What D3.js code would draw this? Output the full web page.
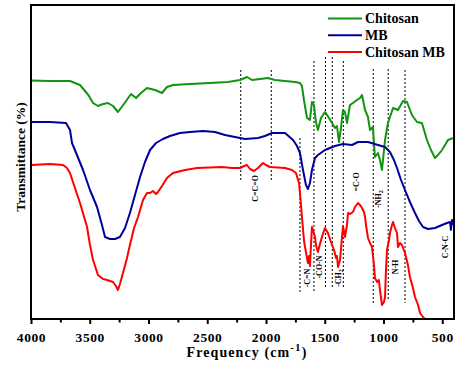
<!DOCTYPE html>
<html><head><meta charset="utf-8">
<script src="https://cdn.jsdelivr.net/npm/d3@7/dist/d3.min.js"></script>
<style>body{margin:0;background:#fff}svg{display:block}</style>
</head><body><svg id="c" width="467" height="365"></svg>
<script>
// [frequency cm-1, transmittance (a.u., offset)]
const chitosan = [[4000,119.2],[3838,119],[3668,119],[3583,117],[3512,112],[3472,108],[3430,106.5],[3387,107.5],[3345,108],[3302,106.5],[3260,103.5],[3209,107.5],[3149,112.5],[3106,110.5],[3064,113],[3013,115.5],[2945,114.5],[2885,113],[2843,116],[2792,117],[2647,117.5],[2477,118],[2324,118.5],[2221,119.5],[2162,121],[2119,119.5],[2051,120],[1983,120.5],[1924,119.5],[1838,119],[1753,118.5],[1711,118],[1694,116.5],[1677,109.5],[1651,100.5],[1626,99.5],[1609,108.5],[1592,107],[1575,98.5],[1558,94.5],[1532,100.5],[1498,103.5],[1464,100.5],[1438,98],[1413,95.5],[1396,96.5],[1379,88.5],[1362,95.5],[1345,104.5],[1328,103.5],[1311,98],[1285,107],[1260,108],[1226,109.5],[1200,110.5],[1183,112],[1157,104.5],[1132,101],[1115,94.5],[1090,96],[1073,81],[1047,83],[1030,79.5],[1013,74.5],[987,89.5],[962,98],[919,105.5],[877,104.5],[834,109],[800,108.5],[758,102],[715,98.5],[673,98],[630,89.5],[596,84.5],[562,80.5],[536,82],[502,84.5],[451,89.5],[409,90.5]];
const mb = [[4000,98.5],[3838,98.5],[3702,98],[3668,94.5],[3651,88],[3609,82],[3557,74.5],[3498,64.5],[3438,56],[3396,47],[3370,41],[3328,40],[3285,40],[3243,41],[3200,45.5],[3158,53],[3115,62],[3072,71],[3030,78.5],[2987,84.5],[2936,88],[2877,90],[2817,91.5],[2732,93],[2647,93.5],[2536,94],[2434,93.5],[2349,92],[2264,91],[2179,90],[2068,90.5],[2009,91.5],[1949,93],[1838,93],[1770,89.5],[1736,86.5],[1711,83],[1685,74.5],[1660,67],[1643,65],[1626,68],[1609,74.5],[1583,80.5],[1558,82],[1498,84.5],[1413,86.5],[1345,87.5],[1268,87],[1217,88.5],[1132,88.5],[1047,87],[987,86],[945,83.5],[911,79.5],[885,75.5],[851,69.5],[817,64.5],[775,58.5],[732,53],[698,49],[664,46],[621,45],[562,45.5],[502,47],[460,48],[434,48.5],[426,44.5],[417,49.5],[409,47]];
const chitosanMB = [[4000,77],[3838,77.5],[3727,77],[3694,75.5],[3668,73],[3626,65.5],[3583,58],[3523,46],[3498,37],[3472,29.5],[3430,22],[3387,20],[3353,19.5],[3302,18.5],[3277,16.5],[3260,14.5],[3243,17.5],[3217,23],[3183,30.5],[3158,37],[3123,45.5],[3089,51],[3047,59.5],[3013,63],[2987,63],[2962,64],[2936,62.5],[2919,63.5],[2885,66.5],[2843,70.5],[2792,73],[2689,74.5],[2587,75.5],[2477,75.8],[2375,76],[2290,75.5],[2221,75.5],[2187,76.5],[2162,77],[2136,75],[2102,74],[2068,75.5],[2026,78],[2000,77],[1966,76],[1838,75.5],[1779,74.5],[1745,73],[1719,68],[1702,57],[1694,51],[1677,39.5],[1668,36],[1651,30.5],[1643,28],[1634,31.5],[1626,26.5],[1617,37],[1609,46],[1600,44.5],[1583,41],[1575,37],[1558,33.5],[1541,37.5],[1524,41],[1498,45.5],[1473,43],[1447,38.5],[1421,34.5],[1404,30.5],[1396,31.5],[1387,26],[1370,29.5],[1353,41],[1345,46.5],[1328,41],[1311,47],[1302,53],[1285,52.5],[1260,53.5],[1243,56],[1217,58],[1200,57],[1183,55.5],[1166,53.5],[1157,51],[1149,47],[1132,40.5],[1115,38],[1098,36],[1081,27],[1073,20.5],[1055,18.5],[1039,19.5],[1030,14.5],[1013,7],[996,8.5],[987,11],[979,24.5],[970,34.5],[953,39.5],[945,43],[928,47],[919,48.5],[902,45.5],[885,43],[877,36],[860,38],[843,37],[817,33],[792,27],[775,21],[749,15.5],[732,11],[706,7],[689,3],[664,1],[647,0]];

const seriesNames = ["Chitosan", "MB", "Chitosan MB"];
const seriesColors = ["#129412", "#00009c", "#ff0000"];
const xTicks = [4000, 3500, 3000, 2500, 2000, 1500, 1000, 500];
const xMinorTicks = [3750, 3250, 2750, 2250, 1750, 1250, 750];
// guide lines: [frequency, top value, bottom value]
const guideLines = [[2215,124.5,68.5],[1955,124.5,69],[1711,90.5,13],[1592,129,13],[1494,131,15],[1436,131,15],[1342,129,15],[1087,125,8],[960,125,9.5],[817,124.5,8]];
// band assignments: [frequency, value, main text, subscript]
const bandLabels = [[2094,65.3,"C=C=O",""],[1651,20.5,"-C=N",""],[1549,26,"-CO-N",""],[1387,20.5,"-CH","2"],[1234,68.5,"=C-O",""],[1047,60,"-NH","2"],[902,26,"N-H",""],[477,36,"C-N-C",""]];

const W = 467, H = 365;
const svg = d3.select("#c");
const font = "'Liberation Serif','Times New Roman',serif";
const x = d3.scaleLinear().domain([4000, 400]).range([31, 454]);
const y = d3.scaleLinear().domain([0, 157]).range([319, 5]);

// dotted guides
svg.append("g").selectAll("line").data(guideLines).join("line")
  .attr("x1", d => x(d[0])).attr("x2", d => x(d[0]))
  .attr("y1", d => y(d[1])).attr("y2", d => y(d[2]))
  .attr("stroke", "#000").attr("stroke-width", 1).attr("stroke-dasharray", "2,2");

// series
const line = d3.line().x(d => x(d[0])).y(d => y(d[1]));
[chitosan, mb, chitosanMB].forEach((s, i) => {
  svg.append("path").datum(s).attr("d", line)
    .attr("fill", "none").attr("stroke", seriesColors[i])
    .attr("stroke-width", 2).attr("stroke-linejoin", "round");
});

// band labels
bandLabels.forEach(d => {
  const t = svg.append("text")
    .attr("transform", `translate(${x(d[0]) + 3},${y(d[1])}) rotate(-90)`)
    .attr("text-anchor", "middle")
    .attr("font-family", font).attr("font-weight", "bold").attr("font-size", 8)
    .attr("fill", "#000");
  t.append("tspan").text(d[2]);
  if (d[3]) t.append("tspan").attr("dy", 2).attr("font-size", 6).text(d[3]);
});

// frame
svg.append("rect").attr("x", x(4000)).attr("y", y(157))
  .attr("width", x(400) - x(4000)).attr("height", y(0) - y(157))
  .attr("fill", "none").attr("stroke", "#000").attr("stroke-width", 2);

// x axis ticks
const axisG = svg.append("g").attr("transform", `translate(0,${y(0)})`);
axisG.call(d3.axisBottom(x).tickValues(xTicks).tickSize(5).tickPadding(8).tickFormat(d3.format("d")));
axisG.select(".domain").remove();
axisG.selectAll(".tick line").attr("stroke-width", 2);
axisG.selectAll(".tick text").attr("font-family", font).attr("font-weight", "bold")
  .attr("font-size", 13.5).attr("letter-spacing", 0.6).attr("fill", "#000");
const minorG = svg.append("g").attr("transform", `translate(0,${y(0)})`);
minorG.call(d3.axisBottom(x).tickValues(xMinorTicks).tickSize(3.5).tickFormat(""));
minorG.select(".domain").remove();
minorG.selectAll(".tick line").attr("stroke-width", 2);

// axis titles
const xt = svg.append("text").attr("x", 247).attr("y", 357).attr("text-anchor", "middle")
  .attr("font-family", font).attr("font-weight", "bold").attr("font-size", 14)
  .attr("letter-spacing", 1.1).attr("fill", "#000");
xt.append("tspan").text("Frequency (cm");
xt.append("tspan").attr("dy", -6).attr("font-size", 11).text("-1");
xt.append("tspan").attr("dy", 6).text(")");

svg.append("text").attr("transform", "translate(25,157) rotate(-90)").attr("text-anchor", "middle")
  .attr("font-family", font).attr("font-weight", "bold").attr("font-size", 13.5)
  .attr("fill", "#000").text("Transmittance (%)");

// legend
const lg = svg.append("g");
seriesNames.forEach((n, i) => {
  const yy = 18.5 + i * 16.8;
  lg.append("line").attr("x1", 328).attr("x2", 362).attr("y1", yy).attr("y2", yy)
    .attr("stroke", seriesColors[i]).attr("stroke-width", 2);
  lg.append("text").attr("x", 365).attr("y", yy + 4.5)
    .attr("font-family", font).attr("font-weight", "bold").attr("font-size", 14)
    .attr("fill", "#000").text(n);
});
</script></body></html>
